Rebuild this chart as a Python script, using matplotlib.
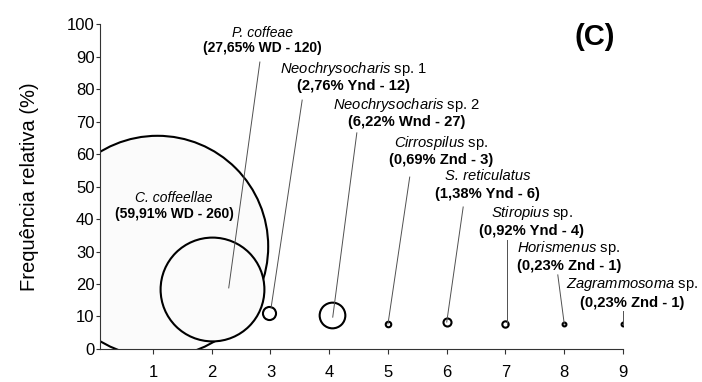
import matplotlib
matplotlib.use("Agg")
import matplotlib.pyplot as plt

plt.rcParams['font.family'] = ['Liberation Sans', 'DejaVu Sans']
plt.rcParams['mathtext.fontset'] = 'custom'
plt.rcParams['mathtext.it'] = 'Liberation Sans:italic'
plt.rcParams['mathtext.rm'] = 'Liberation Sans'

# Parasitoid species: position, relative frequency, share of individuals, code, count
genus = ["C. coffeellae", "P. coffeae", "Neochrysocharis", "Neochrysocharis",
         "Cirrospilus", "S. reticulatus", "Stiropius", "Horismenus", "Zagrammosoma"]
suffix = ["", "", " sp. 1", " sp. 2", " sp.", "", " sp.", " sp.", " sp."]
x_pos = [1.07, 2, 2.97, 4.04, 5, 6, 7, 8, 9]
freq = [31.8, 18.6, 11.2, 10.5, 7.7, 8.3, 7.6, 7.6, 7.7]
share = [59.91, 27.65, 2.76, 6.22, 0.69, 1.38, 0.92, 0.23, 0.23]
code = ["WD", "WD", "Ynd", "Wnd", "Znd", "Ynd", "Ynd", "Znd", "Znd"]
count = [260, 120, 12, 27, 3, 6, 4, 1, 1]
x_ticks = [1, 2, 3, 4, 5, 6, 7, 8, 9]
y_ticks = [0, 10, 20, 30, 40, 50, 60, 70, 80, 90, 100]

# Label placement (data coordinates): name line, value line, leader start/end
lab_x = [1.36, 2.87, 4.42, 5.31, 5.90, 6.70, 7.45, 8.08, 9.15]
name_y = [46.5, 97.3, 86.2, 75.1, 63.4, 53.2, 41.9, 31.1, 19.7]
value_y = [41.4, 92.7, 80.8, 69.7, 58.3, 47.6, 36.3, 25.4, 14.1]
lab_size = [10, 10, 10.6, 10.6, 10.6, 10.6, 10.6, 10.6, 10.6]
lead_from = [None, (2.82, 88.3), (3.54, 76.6), (4.47, 66.5), (5.37, 52.9),
             (6.28, 43.7), (7.03, 33.5), (7.89, 22.8), (9.0, 11.7)]
lead_to = [None, (2.29, 18.8), (3.01, 12.6), (4.06, 9.8), (5.0, 7.7),
           (6.0, 8.3), (7.03, 7.7), (8.0, 7.7), (9.0, 7.7)]

DPI = 100
fig = plt.figure(figsize=(7.02, 3.82), dpi=DPI)
ax = fig.add_axes([0.1425, 0.0864, 0.745, 0.8507])
ax.set_xlim(0.1, 9)
ax.set_ylim(0, 100)

# bubble radius grows linearly with the number of individuals
px_to_pt = 72 / DPI
for i, c in enumerate(count):
    r_px = 0.42 * c + 1.5
    s = (2 * r_px * px_to_pt) ** 2
    face = "#fbfbfb" if c > 100 else "white"
    ax.scatter([x_pos[i]], [freq[i]], s=s, facecolor=face, edgecolor="black",
               linewidth=1.5, zorder=2 + i * 0.01, clip_on=True)

for i in range(len(genus)):
    if lead_from[i] is not None:
        ax.plot([lead_from[i][0], lead_to[i][0]], [lead_from[i][1], lead_to[i][1]],
                color="#505050", linewidth=0.7, zorder=4, clip_on=False)
    if suffix[i]:
        top = r"$\mathit{" + genus[i] + "}$" + suffix[i]
        style = "normal"
    else:
        top = genus[i]
        style = "italic"
    ax.text(lab_x[i], name_y[i], top, fontsize=lab_size[i], fontstyle=style,
            ha="center", va="center", zorder=5, clip_on=False)
    pct = f"{share[i]:.2f}".replace(".", ",")
    ax.text(lab_x[i], value_y[i], f"({pct}% {code[i]} - {count[i]})",
            fontsize=lab_size[i], fontweight="bold", ha="center", va="center",
            zorder=5, clip_on=False)

ax.text(8.52, 96, "(C)", fontsize=21, fontweight="bold", ha="center", va="center")

for side in ("top", "right"):
    ax.spines[side].set_visible(False)
for side in ("left", "bottom"):
    ax.spines[side].set_linewidth(0.8)
    ax.spines[side].set_color("#333333")

ax.set_xticks(x_ticks)
ax.set_yticks(y_ticks)
ax.tick_params(axis="x", length=3.5, width=0.8, color="#333333", pad=8, labelsize=12)
ax.tick_params(axis="y", length=3, width=0.8, color="#333333", pad=1, labelsize=12)
ax.set_ylabel("Frequência relativa (%)", fontsize=14.5, labelpad=20)

fig.savefig("out.png", dpi=DPI)
